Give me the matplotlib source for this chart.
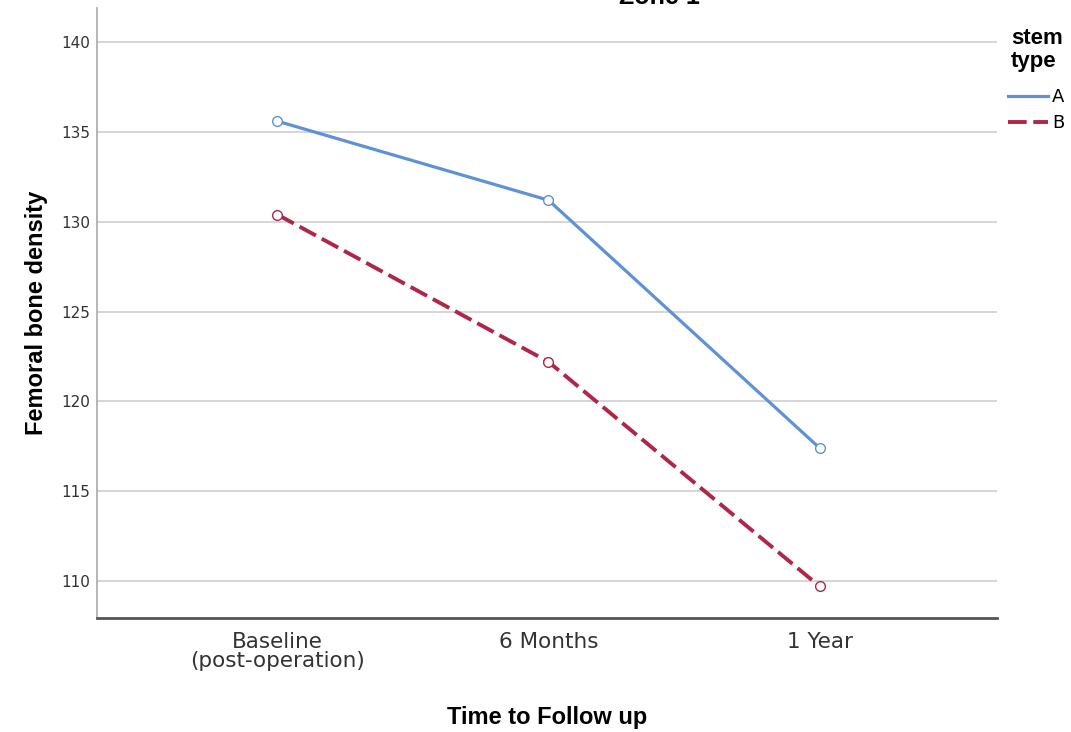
import matplotlib as mpl
import matplotlib.pyplot as plt

# values
timepoints = ['Baseline\n(post-operation)', '6 Months', '1 Year']
stem_a = [135.6, 131.2, 117.4]
stem_b = [130.4, 122.2, 109.7]
y_ticks = [110, 115, 120, 125, 130, 135, 140]

W, H = 1071, 732


def makePlot():
	dpi = 100
	fig = plt.figure(dpi=dpi, figsize=(W / dpi, H / dpi))
	mpl.rcParams.update({'font.family': 'DejaVu Sans', 'font.size': 10})

	ax = fig.add_axes([97 / W, 1 - 618 / H, 900 / W, 610 / H])
	xs = list(range(len(timepoints)))

	for t in y_ticks:
		ax.axhline(t, color='#d2d2d2', linewidth=1.3, zorder=0)

	la, = ax.plot(xs, stem_a, color='#5f92d4', linewidth=2.3, linestyle='solid',
		marker='o', markersize=7, markerfacecolor='white', markeredgecolor='#5f92d4',
		markeredgewidth=1.0, label='A', zorder=3)
	lb, = ax.plot(xs, stem_b, color='#ae2749', linewidth=2.8, linestyle=(0, (4.8, 1.7)),
		marker='o', markersize=7, markerfacecolor='white', markeredgecolor='#ae2749',
		markeredgewidth=1.0, label='B', zorder=3)

	ax.set_xlim(-0.665, 2.654)
	ax.set_ylim(107.94, 141.9)
	ax.set_xticks(xs)
	ax.set_xticklabels(timepoints, fontsize=15.5, color='#333333', linespacing=0.95)
	ax.set_yticks(y_ticks)
	ax.set_yticklabels([str(t) for t in y_ticks], fontsize=11, color='#333333')
	ax.tick_params(axis='both', length=0)
	ax.tick_params(axis='y', pad=5)
	ax.tick_params(axis='x', pad=10)

	for s in ['top', 'right']:
		ax.spines[s].set_visible(False)
	ax.spines['left'].set_color('#aaaaaa')
	ax.spines['left'].set_linewidth(1.2)
	ax.spines['bottom'].set_color('#555555')
	ax.spines['bottom'].set_linewidth(2.0)

	ax.set_xlabel('Time to Follow up', fontsize=17, fontweight='bold',
		family='Liberation Sans')
	ax.xaxis.set_label_coords(0.5, -(706 - 618) / 610)
	ax.set_ylabel('Femoral bone density', fontsize=17, fontweight='bold',
		family='Liberation Sans')
	ax.yaxis.set_label_coords((48 - 97) / 900, 0.5)

	fig.text(659 / W, 1 - 4 / H, 'Zone 1', fontsize=18, fontweight='bold',
		family='Liberation Sans', ha='center', va='baseline')

	# legend title drawn as two lines of text, entries below
	fig.text(1011 / W, 1 - 44 / H, 'stem', fontsize=16, fontweight='bold',
		family='Liberation Sans', ha='left', va='baseline')
	fig.text(1011 / W, 1 - 67 / H, 'type', fontsize=16, fontweight='bold',
		family='Liberation Sans', ha='left', va='baseline')
	leg = fig.legend(handles=[la, lb], labels=['A', 'B'],
		loc='upper left', bbox_to_anchor=(1008 / W, 1 - 88 / H), frameon=False,
		handlelength=2.2, handletextpad=0.25, labelspacing=0.47, borderpad=0,
		borderaxespad=0, fontsize=13)
	for h in leg.legend_handles:
		h.set_marker('')

	fig.savefig('out.png', dpi=dpi)


makePlot()
